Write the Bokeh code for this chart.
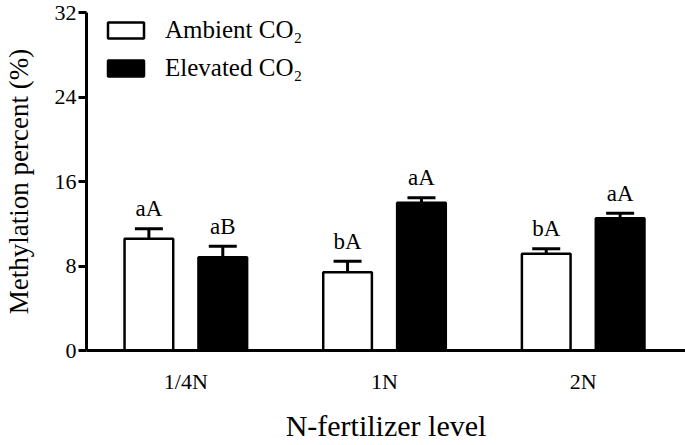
from bokeh.plotting import figure
from bokeh.models import (ColumnDataSource, Range1d, FixedTicker, Whisker, TeeHead,
                          Legend, LegendItem)
from bokeh.core.properties import value
from bokeh.embed import file_html
from bokeh.resources import INLINE

# ---- data ----
levels = ["1/4N", "1N", "2N"]
ambient = [10.57, 7.41, 9.15]
ambient_err = [0.95, 1.05, 0.48]
elevated = [8.83, 13.98, 12.53]
elevated_err = [1.05, 0.48, 0.47]
ambient_sig = ["aA", "bA", "bA"]
elevated_sig = ["aB", "aA", "aA"]
y_ticks = [0, 8, 16, 24, 32]
series_names = ["Ambient CO\u2082", "Elevated CO\u2082"]

FONT = "Liberation Serif"
centers = [i + 0.5 for i in range(len(levels))]
dodge = 0.186
bar_w = 0.245

amb_src = ColumnDataSource(dict(
    x=[c - dodge for c in centers], top=ambient,
    upper=[v + e for v, e in zip(ambient, ambient_err)], sig=ambient_sig))
ele_src = ColumnDataSource(dict(
    x=[c + dodge for c in centers], top=elevated,
    upper=[v + e for v, e in zip(elevated, elevated_err)], sig=elevated_sig))

p = figure(width=685, height=445,
           x_range=Range1d(0, 3.015), y_range=Range1d(y_ticks[0], y_ticks[-1]),
           output_backend="svg", toolbar_location=None,
           min_border_left=82, min_border_right=0, min_border_top=12, min_border_bottom=95)
p.xgrid.visible = False
p.ygrid.visible = False
p.outline_line_color = None
p.background_fill_color = "white"

r_amb = p.vbar(x="x", top="top", width=bar_w, source=amb_src,
               fill_color="white", line_color="black", line_width=2.5)
r_ele = p.vbar(x="x", top="top", width=bar_w, source=ele_src,
               fill_color="black", line_color="black", line_width=2.5)

for src in (amb_src, ele_src):
    w = Whisker(base="x", upper="upper", lower="top", source=src,
                line_color="black", line_width=3,
                upper_head=TeeHead(size=28, line_color="black", line_width=3),
                lower_head=None)
    p.add_layout(w)
    p.text(x="x", y="upper", text="sig", source=src, text_align="center",
           text_baseline="alphabetic", y_offset=-20,
           text_font=value(FONT), text_font_size="23px", text_color="black")

# axes
p.yaxis.ticker = FixedTicker(ticks=y_ticks)
p.yaxis.minor_tick_line_color = None
p.yaxis.major_tick_out = 8
p.yaxis.major_tick_in = 0
p.yaxis.major_label_standoff = 2
p.yaxis.axis_label = "Methylation percent (%)"
p.yaxis.axis_label_standoff = 18
p.yaxis.axis_label_text_font_size = "27px"

p.xaxis.ticker = FixedTicker(ticks=centers)
p.xaxis.major_label_overrides = {c: lab for c, lab in zip(centers, levels)}
p.xaxis.minor_tick_line_color = None
p.xaxis.major_tick_line_color = None
p.xaxis.major_tick_out = 0
p.xaxis.major_tick_in = 0
p.xaxis.major_label_standoff = 18
p.xaxis.axis_label = "N-fertilizer level"
p.xaxis.axis_label_standoff = 12
p.xaxis.axis_label_text_font_size = "30px"

for ax in (p.xaxis, p.yaxis):
    ax.axis_line_width = 3
    ax.axis_line_color = "black"
    ax.major_tick_line_width = 3
    ax.major_label_text_font = FONT
    ax.major_label_text_font_size = "22px"
    ax.major_label_text_color = "black"
    ax.axis_label_text_font = FONT
    ax.axis_label_text_font_style = "normal"
    ax.axis_label_text_color = "black"

legend = Legend(items=[LegendItem(label=series_names[0], renderers=[r_amb]),
                       LegendItem(label=series_names[1], renderers=[r_ele])],
                location=(17, 268), glyph_width=45, glyph_height=20,
                label_text_font=FONT, label_text_font_size="25px",
                label_text_color="black",
                label_standoff=17, spacing=10, padding=0, margin=0,
                border_line_color=None, background_fill_alpha=0)
p.add_layout(legend)

open("out.html", "w").write(file_html(p, INLINE))
